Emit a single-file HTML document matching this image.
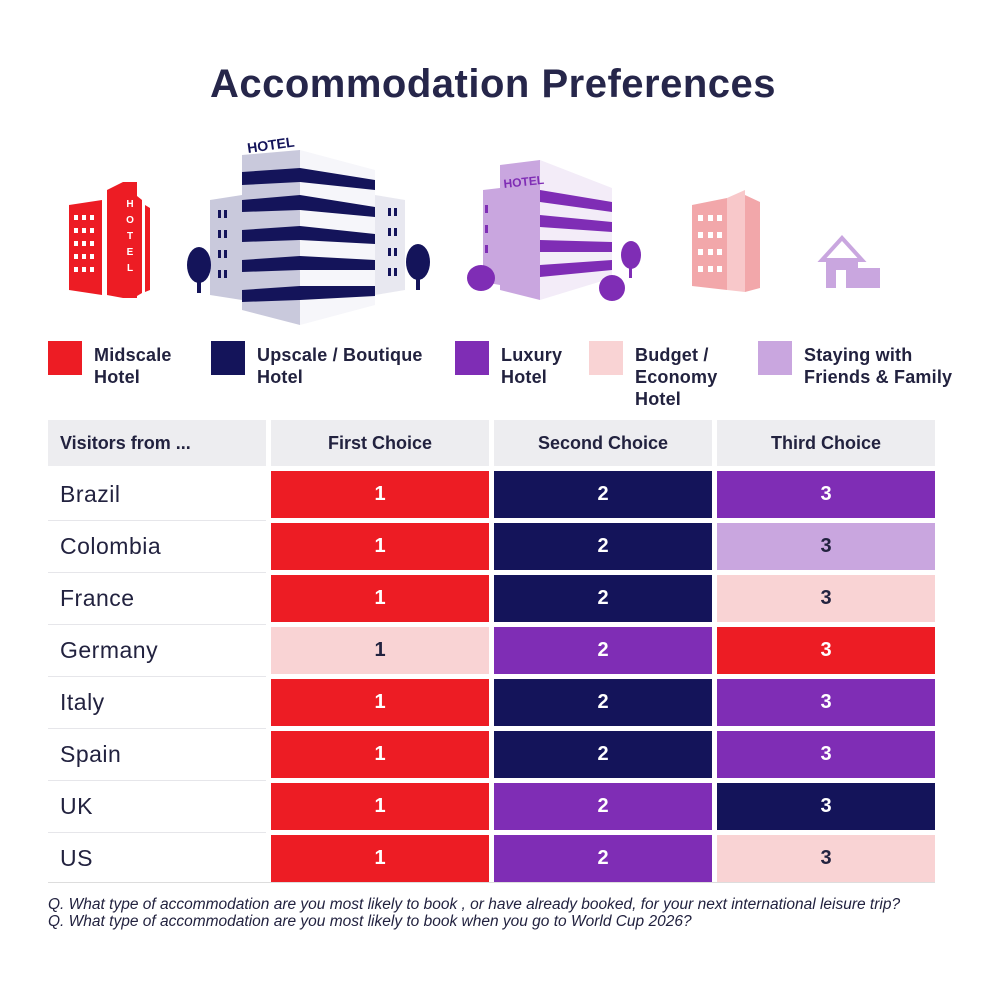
<!DOCTYPE html>
<html><head><meta charset="utf-8"><style>
body{margin:0;width:1000px;height:1000px;background:#fff;position:relative;font-family:"Liberation Sans",sans-serif;color:#22223f;overflow:hidden}
.a{position:absolute}
h1{position:absolute;top:62px;left:0;width:986px;text-align:center;margin:0;font-size:40px;font-weight:bold;color:#26264a;letter-spacing:0.5px}
.sw{position:absolute;width:34px;height:34px}
.lg{position:absolute;font-size:18px;font-weight:bold;line-height:22px;color:#22223f;letter-spacing:0.2px}
.c{position:absolute;height:47px;text-align:center;line-height:47px;font-weight:bold;font-size:20px;color:#fff}
.h{position:absolute;top:420px;height:46px;background:#ededf0;line-height:46px;font-weight:bold;font-size:18px;text-align:center}
.n{position:absolute;left:60px;font-size:23px;line-height:47px;letter-spacing:0.5px}
.sep{position:absolute;left:48px;width:218px;height:1px;background:#e6e6ea}
.q{position:absolute;left:48px;font-size:15.5px;font-style:italic;color:#22223f}
</style></head><body>
<h1>Accommodation Preferences</h1>
<svg class="a" style="left:0;top:110px" width="1000" height="220">
<g fill="#ed1c24"><polygon points="69,95 102,90 102,185 69,180"/><polygon points="107,80 123,72 123,188 107,185"/><rect x="123" y="72" width="14" height="116"/><polygon points="137,86 142,90 142,183 137,186"/><polygon points="145,95 150,98 150,180 145,182"/></g>
<g fill="#fff"><rect x="74" y="105" width="4" height="5"/><rect x="82" y="105" width="4" height="5"/><rect x="90" y="105" width="4" height="5"/><rect x="74" y="118" width="4" height="5"/><rect x="82" y="118" width="4" height="5"/><rect x="90" y="118" width="4" height="5"/><rect x="74" y="131" width="4" height="5"/><rect x="82" y="131" width="4" height="5"/><rect x="90" y="131" width="4" height="5"/><rect x="74" y="144" width="4" height="5"/><rect x="82" y="144" width="4" height="5"/><rect x="90" y="144" width="4" height="5"/><rect x="74" y="157" width="4" height="5"/><rect x="82" y="157" width="4" height="5"/><rect x="90" y="157" width="4" height="5"/></g>
<text x="130" y="97" fill="#fff" font-size="10" font-weight="bold" text-anchor="middle">H</text><text x="130" y="113" fill="#fff" font-size="10" font-weight="bold" text-anchor="middle">O</text><text x="130" y="129" fill="#fff" font-size="10" font-weight="bold" text-anchor="middle">T</text><text x="130" y="145" fill="#fff" font-size="10" font-weight="bold" text-anchor="middle">E</text><text x="130" y="161" fill="#fff" font-size="10" font-weight="bold" text-anchor="middle">L</text>
<polygon points="210,90 242,85 242,190 210,185" fill="#c9c9dc"/>
<polygon points="375,85 405,90 405,180 375,185" fill="#e8e8f0"/>
<polygon points="242,45 300,40 300,215 242,200" fill="#c9c9dc"/>
<polygon points="300,40 375,60 375,195 300,215" fill="#f6f6fa"/>
<g fill="#14145a"><polygon points="242,62 300,58 375,70 375,80 300,72 242,75"/><polygon points="242,90 300,85 375,97 375,107 300,100 242,102"/><polygon points="242,120 300,116 375,124 375,134 300,130 242,132"/><polygon points="242,150 300,146 375,150 375,160 300,160 242,162"/><polygon points="242,180 300,176 375,176 375,186 300,190 242,192"/>
<rect x="218" y="100" width="3" height="8"/><rect x="224" y="100" width="3" height="8"/><rect x="218" y="120" width="3" height="8"/><rect x="224" y="120" width="3" height="8"/><rect x="218" y="140" width="3" height="8"/><rect x="224" y="140" width="3" height="8"/><rect x="218" y="160" width="3" height="8"/><rect x="224" y="160" width="3" height="8"/>
<rect x="388" y="98" width="3" height="8"/><rect x="394" y="98" width="3" height="8"/><rect x="388" y="118" width="3" height="8"/><rect x="394" y="118" width="3" height="8"/><rect x="388" y="138" width="3" height="8"/><rect x="394" y="138" width="3" height="8"/><rect x="388" y="158" width="3" height="8"/><rect x="394" y="158" width="3" height="8"/>
<ellipse cx="199" cy="155" rx="12" ry="18"/><rect x="197" y="165" width="4" height="18"/><ellipse cx="418" cy="152" rx="12" ry="18"/><rect x="416" y="162" width="4" height="18"/></g>
<text x="248" y="43" fill="#14145a" font-size="14" font-weight="bold" transform="rotate(-8 248 43)">HOTEL</text>
<polygon points="483,80 500,78 500,175 483,172" fill="#c9a6df"/>
<polygon points="500,55 540,50 540,190 500,180" fill="#c9a6df"/>
<polygon points="540,50 612,78 612,168 540,190" fill="#f3ecf8"/>
<g fill="#7f2db5"><polygon points="540,80 612,92 612,102 540,92"/><polygon points="540,105 612,112 612,122 540,117"/><polygon points="540,130 612,132 612,142 540,142"/><polygon points="540,155 612,150 612,160 540,167"/><rect x="485" y="95" width="3" height="8"/><rect x="485" y="115" width="3" height="8"/><rect x="485" y="135" width="3" height="8"/>
<ellipse cx="481" cy="168" rx="14" ry="13"/><ellipse cx="612" cy="178" rx="13" ry="13"/></g>
<ellipse cx="631" cy="145" rx="10" ry="14" fill="#7f2db5"/><rect x="629" y="150" width="3" height="18" fill="#7f2db5"/>
<text x="504" y="78" fill="#7f2db5" font-size="12" font-weight="bold" transform="rotate(-6 504 78)">HOTEL</text>
<polygon points="692,95 727,88 727,180 692,176" fill="#f2a7aa"/><polygon points="727,88 745,80 745,182 727,180" fill="#f8c8ca"/><polygon points="745,85 760,92 760,178 745,182" fill="#f2a7aa"/>
<g fill="#fff"><rect x="698" y="105" width="5" height="6"/><rect x="708" y="105" width="5" height="6"/><rect x="717" y="105" width="5" height="6"/><rect x="698" y="122" width="5" height="6"/><rect x="708" y="122" width="5" height="6"/><rect x="717" y="122" width="5" height="6"/><rect x="698" y="139" width="5" height="6"/><rect x="708" y="139" width="5" height="6"/><rect x="717" y="139" width="5" height="6"/><rect x="698" y="156" width="5" height="6"/><rect x="708" y="156" width="5" height="6"/><rect x="717" y="156" width="5" height="6"/></g>
<polygon points="822,150 842,128 862,150" fill="none" stroke="#c9a6df" stroke-width="4"/>
<rect x="826" y="150" width="32" height="28" fill="#c9a6df"/><rect x="858" y="158" width="22" height="20" fill="#c9a6df"/>
<rect x="836" y="160" width="10" height="18" fill="#fff"/>
</svg>
<div class="sw" style="left:48px;top:341px;background:#ed1c24"></div><div class="lg" style="left:94px;top:344px">Midscale<br>Hotel</div>
<div class="sw" style="left:211px;top:341px;background:#14145a"></div><div class="lg" style="left:257px;top:344px">Upscale / Boutique<br>Hotel</div>
<div class="sw" style="left:455px;top:341px;background:#7f2db5"></div><div class="lg" style="left:501px;top:344px">Luxury<br>Hotel</div>
<div class="sw" style="left:589px;top:341px;background:#f9d3d4"></div><div class="lg" style="left:635px;top:344px">Budget /<br>Economy<br>Hotel</div>
<div class="sw" style="left:758px;top:341px;background:#c9a6df"></div><div class="lg" style="left:804px;top:344px">Staying with<br>Friends &amp; Family</div>
<div class="h" style="left:48px;width:218px;text-align:left;padding-left:12px;box-sizing:border-box">Visitors from ...</div>
<div class="h" style="left:271px;width:218px">First Choice</div>
<div class="h" style="left:494px;width:218px">Second Choice</div>
<div class="h" style="left:717px;width:218px">Third Choice</div>
<div id="t"></div>
<script>
var R="#ed1c24",N="#14145a",P="#7f2db5",K="#f9d3d4",L="#c9a6df";
var rows=[["Brazil",R,N,P],["Colombia",R,N,L],["France",R,N,K],["Germany",K,P,R],["Italy",R,N,P],["Spain",R,N,P],["UK",R,P,N],["US",R,P,K]];
var h="";rows.forEach(function(r,i){var y=471+i*52;h+='<div class="n" style="top:'+y+'px">'+r[0]+'</div>';if(i)h+='<div class="sep" style="top:'+(y-3)+'px"></div>';
[271,494,717].forEach(function(x,j){var c=r[j+1];var tc=(c==K||c==L)?"#22223f":"#fff";h+='<div class="c" style="left:'+x+'px;top:'+y+'px;width:218px;background:'+c+';color:'+tc+'">'+(j+1)+'</div>';});});
h+='<div class="sep" style="top:882px;width:887px;background:#ddd"></div>';
document.getElementById("t").innerHTML=h;
</script>
<div class="q" style="top:896px">Q. What type of accommodation are you most likely to book , or have already booked, for your next international leisure trip?</div>
<div class="q" style="top:913px">Q. What type of accommodation are you most likely to book when you go to World Cup 2026?</div>
</body></html>
